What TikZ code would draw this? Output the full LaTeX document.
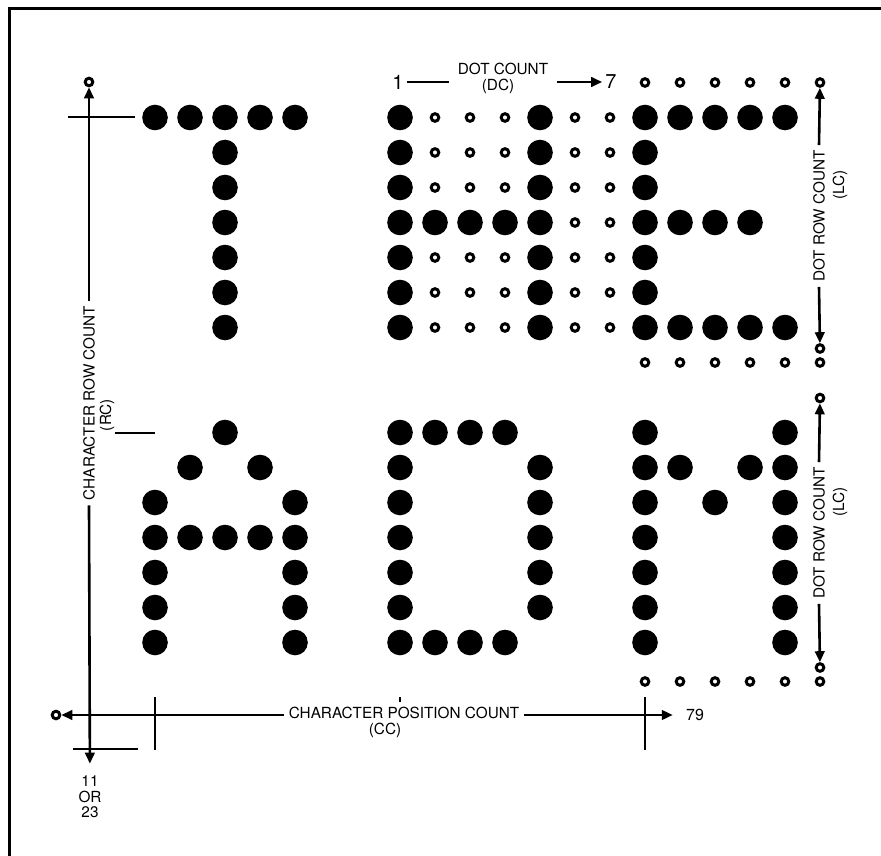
\documentclass[tikz,border=0pt]{standalone}
\usepackage{fontspec}
\setmainfont{TeX Gyre Heros}
\usetikzlibrary{arrows.meta}
\begin{document}
\begin{tikzpicture}[x=1pt, y=-1pt, line width=2.6pt,
    lit/.style = {circle, fill, inner sep=0pt, minimum size=25.6pt},
    unlit/.style = {circle, draw, inner sep=0pt, minimum size=7.6pt, line width=3pt},
    lbl/.style = {inner sep=4pt, font=\fontsize{15.3}{15.5}\selectfont},
    arr/.style = {-{Triangle[length=11pt, width=9.5pt]}}]

	\useasboundingbox (0,0) rectangle (881,856);
	\draw[line width=3pt] (881,9) -- (9,9) -- (9,856);

	% lit dots: T H E / A D M
	\foreach \c/\r in {0/1,1/1,2/1,3/1,4/1,2/2,2/3,2/4,2/5,2/6,2/7,
		7/1,7/2,7/3,7/4,7/5,7/6,7/7,8/4,9/4,10/4,11/1,11/2,11/3,11/4,11/5,11/6,11/7,
		14/1,15/1,16/1,17/1,18/1,14/2,14/3,14/4,15/4,16/4,17/4,14/5,14/6,14/7,15/7,16/7,17/7,18/7,
		2/10,1/11,3/11,0/12,4/12,0/13,1/13,2/13,3/13,4/13,0/14,4/14,0/15,4/15,0/16,4/16,
		7/10,8/10,9/10,10/10,7/11,7/12,7/13,7/14,7/15,11/11,11/12,11/13,11/14,11/15,7/16,8/16,9/16,10/16,
		14/10,14/11,14/12,14/13,14/14,14/15,14/16,15/11,16/12,17/11,18/10,18/11,18/12,18/13,18/14,18/15,18/16}
		\node[lit] (d\c-\r) at ({155+35*\c},{82.5+35*\r}) {};

	% unlit dots
	\foreach \r in {1,2,3,5,6,7} \foreach \c in {8,9,10}
		\node[unlit] (d\c-\r) at ({155+35*\c},{82.5+35*\r}) {};
	\foreach \r in {1,...,7} \foreach \c in {12,13}
		\node[unlit] (d\c-\r) at ({155+35*\c},{82.5+35*\r}) {};
	\foreach \r in {0,8,17} \foreach \c in {14,...,18}
		\node[unlit] (d\c-\r) at ({155+35*\c},{82.5+35*\r+4*(\r>16)}) {};

	% character row count
	\node[unlit] (rc0) at (89,82) {};
	\node[lbl, rotate=90] (rctext) at (89,403) {CHARACTER ROW COUNT};
	\node[lbl, rotate=90] (rcsub) at (107,415) {(RC)};
	\node[lbl, align=center] (rcend) at (90,797) {11\\OR\\23};
	\draw[arr] (rctext.east) -- (rc0);
	\draw[arr, shorten >=7pt] (rctext.west) -- (rcend);
	\draw (68,117) -- (135,117);
	\draw (115,433) -- (155,433);
	\draw (73,749) -- (138,749);

	% dot count
	\node[lbl, font=\fontsize{20}{22}\selectfont, inner sep=2pt] (dc1) at (398,82) {1};
	\node[lbl, inner sep=1pt] (dctext) at (503,69) {DOT COUNT};
	\node[lbl, inner sep=1pt] (dcsub) at (498,86) {(DC)};
	\node[lbl, font=\fontsize{20}{22}\selectfont, inner sep=2pt] (dc7) at (611,82) {7};
	\draw (dc1) -- ([xshift=-7pt]dc1 -| dctext.west);
	\draw[arr] ([xshift=7pt]dc7 -| dctext.east) -- (dc7);

	% character position count
	\node[unlit] (cc0) at (56,715) {};
	\node[lbl] (cctext) at (404,713) {CHARACTER POSITION COUNT};
	\node[lbl] (ccsub) at (385,730) {(CC)};
	\node[lbl, font=\fontsize{16}{18}\selectfont] (cc79) at (695,715) {79};
	\draw[arr] (cctext.west |- cc0) -- (cc0);
	\draw[arr, shorten >=8pt] (cctext.east |- cc0) -- (cc79);
	\draw (155,697) -- (155,750);
	\draw (645,697) -- (645,750);
	\draw (400,697) -- (400,702);

	% dot row count, upper
	\node[unlit] (lc0) at (820,82.5) {};
	\node[lbl, rotate=90] (lctext) at (819,216) {DOT ROW COUNT};
	\node[lbl, rotate=90] (lcsub) at (840,185) {(LC)};
	\node[unlit] (lc8a) at (820,348.5) {};
	\node[unlit] (lc8b) at (820,362.5) {};
	\draw[arr] (lctext.east) -- (lc0);
	\draw[arr] (lctext.west) -- (lc8a);

	% dot row count, lower
	\node[unlit] (lc9) at (820,398) {};
	\node[lbl, rotate=90] (lctextb) at (819,533) {DOT ROW COUNT};
	\node[lbl, rotate=90] (lcsubb) at (840,502) {(LC)};
	\node[unlit] (lc17a) at (820,667.5) {};
	\node[unlit] (lc17b) at (820,681.5) {};
	\draw[arr] (lctextb.east) -- (lc9);
	\draw[arr] (lctextb.west) -- (lc17a);
\end{tikzpicture}
\end{document}
